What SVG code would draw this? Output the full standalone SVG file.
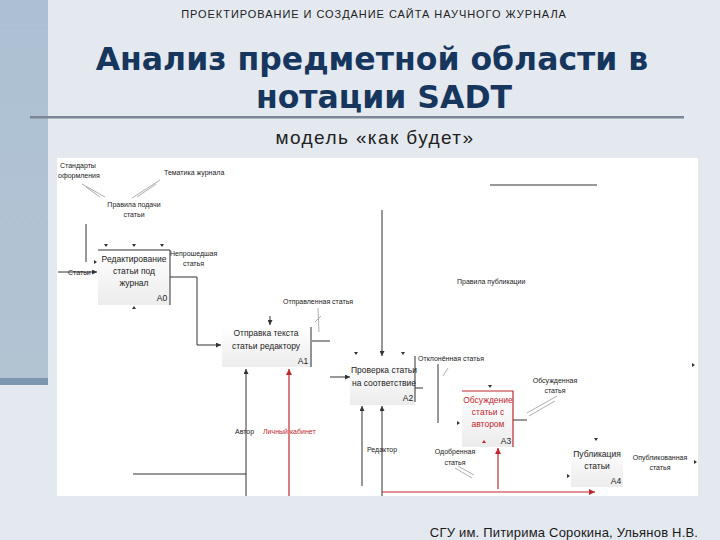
<svg xmlns="http://www.w3.org/2000/svg" width="720" height="540" viewBox="0 0 720 540">
<defs>
<linearGradient id="bar" x1="0" y1="0" x2="0" y2="1"><stop offset="0" stop-color="#adc0d3"/><stop offset="1" stop-color="#b2c4d2"/></linearGradient>
<linearGradient id="box" x1="0" y1="0" x2="0" y2="1"><stop offset="0" stop-color="#ffffff"/><stop offset="1" stop-color="#ececec"/></linearGradient>
<marker id="ah" viewBox="0 0 6 6" refX="6" refY="3" markerWidth="5" markerHeight="5" orient="auto"><path d="M0,0 L6,3 L0,6 z" fill="#333"/></marker>
<marker id="ahr" viewBox="0 0 6 6" refX="6" refY="3" markerWidth="5" markerHeight="5" orient="auto"><path d="M0,0 L6,3 L0,6 z" fill="#c0282d"/></marker>
</defs>
<style>
.t{font-family:"Liberation Sans",Arial,sans-serif;font-size:7px;fill:#222}
.tc{text-anchor:middle}
.bt{font-family:"Liberation Sans",Arial,sans-serif;font-size:8.5px;fill:#222;text-anchor:middle}
.rt{fill:#c0282d}
.ln{stroke:#333;stroke-width:1;fill:none}
.rl{stroke:#c0282d;stroke-width:1.2;fill:none}
.sq{stroke:#999;stroke-width:0.8;fill:none}
.bx{fill:url(#box);stroke:none}
.ti{font-family:"DejaVu Sans",Verdana,sans-serif;font-weight:bold;font-size:31.5px;fill:#17365d;text-anchor:middle}
</style>
<rect width="720" height="540" fill="#e4e9ef"/>
<rect x="0" y="0" width="48" height="378" fill="url(#bar)"/>
<rect x="0" y="378" width="48" height="7" fill="#7d96b0"/>
<text x="374" y="18" font-family="Liberation Sans,Arial,sans-serif" font-size="11" letter-spacing="0.95" fill="#222" text-anchor="middle">ПРОЕКТИРОВАНИЕ И СОЗДАНИЕ САЙТА НАУЧНОГО ЖУРНАЛА</text>
<text class="ti" x="372" y="70">Анализ предметной области в</text>
<text class="ti" x="384" y="108">нотации SADT</text>
<rect x="30" y="116" width="654" height="2.5" fill="#7b8696"/>
<text x="375" y="144" font-family="Liberation Sans,Arial,sans-serif" font-size="19" letter-spacing="1.4" fill="#222" text-anchor="middle">модель «как будет»</text>
<rect x="57" y="158" width="641" height="338" fill="#ffffff"/>
<text x="564" y="537" font-family="Liberation Sans,Arial,sans-serif" font-size="13" letter-spacing="0.2" fill="#1a1a1a" text-anchor="middle">СГУ им. Питирима Сорокина, Ульянов Н.В.</text>

<g id="connectors">
<path class="sq" d="M82,184 L105,197 M86,187 L100,197 M160,180 L132,198 M156,184 L137,197"/>
<line class="ln" x1="86" y1="224" x2="86" y2="262"/>
<line class="ln" x1="58" y1="272" x2="97" y2="272" marker-end="url(#ah)"/>
<path class="ln" d="M170,277 H197 V345 H221" marker-end="url(#ah)"/>
<line class="ln" x1="270" y1="316" x2="270" y2="325" marker-end="url(#ah)"/>
<path class="sq" d="M318,308 L319,332 M315,322 L321,316"/>
<line class="ln" x1="312" y1="341" x2="330" y2="341"/>
<line class="ln" x1="246" y1="496" x2="246" y2="369" marker-end="url(#ah)"/>
<line class="ln" x1="133" y1="474" x2="246" y2="474"/>
<line class="rl" x1="289" y1="496" x2="289" y2="369" marker-end="url(#ahr)"/>
<line class="ln" x1="382" y1="210" x2="382" y2="356" marker-end="url(#ah)"/>
<line class="ln" x1="490" y1="185" x2="597" y2="185"/>
<line class="ln" x1="330" y1="377" x2="350" y2="377" marker-end="url(#ah)"/>
<line class="ln" x1="362" y1="486" x2="362" y2="406" marker-end="url(#ah)"/>
<line class="ln" x1="382" y1="496" x2="382" y2="406" marker-end="url(#ah)"/>
<line class="ln" x1="415" y1="388" x2="423" y2="388"/>
<line class="ln" x1="438" y1="364" x2="438" y2="423"/>
<path class="sq" d="M443,376 L448,368"/>
<path class="sq" d="M527,413 L557,396 M529,416 L555,401"/>
<line class="ln" x1="513" y1="420" x2="527" y2="420"/>
<path class="sq" d="M455,468 L472,478 M458,466 L474,475"/>
<path class="rl" d="M382,492 H595" marker-end="url(#ahr)"/>
<line class="rl" x1="498" y1="489" x2="498" y2="448" marker-end="url(#ahr)"/>
</g>

<g id="A0">
<rect class="bx" x="98" y="250" width="72" height="55"/>
<path class="ln" d="M98,250 H170 V305"/>
<path d="M104,244 l2,3 l2,-3z M132,244 l2,3 l2,-3z M160,244 l2,3 l2,-3z M94,260 l3,2 l-3,2z" fill="#333"/>
<text class="bt" x="134" y="262">Редактирование</text>
<text class="bt" x="134" y="274">статьи под</text>
<text class="bt" x="134" y="286">журнал</text>
<text class="bt" x="162" y="301">A0</text>
<path d="M132,309 l2,-3 l2,3z" fill="#333"/>
</g>

<g id="A1">
<rect class="bx" x="222" y="327" width="90" height="40"/>
<line class="ln" x1="311" y1="327" x2="311" y2="367"/>
<text class="bt" x="266" y="336">Отправка текста</text>
<text class="bt" x="266" y="349">статьи редактору</text>
<text class="bt" x="303" y="364">A1</text>
</g>

<g id="A2">
<rect class="bx" x="350" y="358" width="65" height="47"/>
<line class="ln" x1="415" y1="356" x2="415" y2="402"/>
<path d="M354,352 l2,3 l2,-3z M401,352 l2,3 l2,-3z" fill="#333"/>
<text class="bt" x="384" y="373">Проверка статьи</text>
<text class="bt" x="384" y="386">на соответствие</text>
<text class="bt" x="408" y="401">A2</text>
</g>

<g id="A3">
<rect class="bx" x="462" y="391" width="51" height="56"/>
<path class="rl" d="M462,391 H513 V447"/>
<path d="M488,385 l2,3 l2,-3z M457,421 l3,2 l-3,2z" fill="#333"/>
<path d="M482,443 l2,-3 l2,3z" fill="#c0282d"/>
<text class="bt rt" x="488" y="403">Обсуждение</text>
<text class="bt rt" x="488" y="415">статьи с</text>
<text class="bt rt" x="488" y="427">автором</text>
<text class="bt" x="506" y="444">A3</text>
</g>

<g id="A4">
<rect class="bx" x="571" y="447" width="52" height="40"/>
<path d="M594,438 l2,3 l2,-3z M567,474 l3,2 l-3,2z M694,460 l3,2 l-3,2z M692,363 l3,2 l-3,2z" fill="#333"/>
<text class="bt" x="597" y="457">Публикация</text>
<text class="bt" x="597" y="469">статьи</text>
<text class="bt" x="616" y="484">A4</text>
</g>

<g id="labels">
<text class="t" x="60" y="168">Стандарты</text>
<text class="t" x="58" y="178">оформления</text>
<text class="t" x="164" y="175">Тематика журнала</text>
<text class="t tc" x="134" y="207">Правила подачи</text>
<text class="t tc" x="134" y="217">статьи</text>
<text class="t" x="170" y="256">Непрошедшая</text>
<text class="t" x="183" y="266">статья</text>
<text class="t" x="68" y="275">Статьи</text>
<text class="t" x="283" y="304">Отправленная статья</text>
<text class="t" x="457" y="284">Правила публикации</text>
<text class="t" x="418" y="361">Отклонённая статья</text>
<text class="t tc" x="555" y="383">Обсужденная</text>
<text class="t tc" x="555" y="393">статья</text>
<text class="t" x="235" y="434">Автор</text>
<text class="t rt" x="263" y="434">Личный кабинет</text>
<text class="t" x="367" y="452">Редактор</text>
<text class="t tc" x="455" y="454">Одобренная</text>
<text class="t tc" x="455" y="465">статья</text>
<text class="t tc" x="660" y="460">Опубликованная</text>
<text class="t tc" x="660" y="470">статья</text>
</g>
</svg>
